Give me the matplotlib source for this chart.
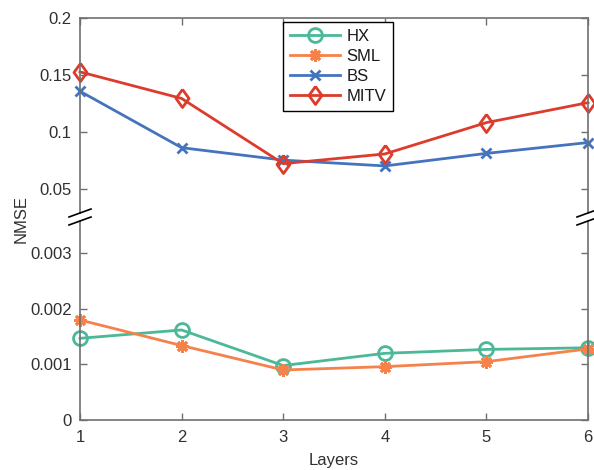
import matplotlib
matplotlib.use('Agg')
import matplotlib.pyplot as plt
from matplotlib.transforms import Affine2D
from matplotlib.lines import Line2D

layers = [1, 2, 3, 4, 5, 6]
hx = [0.00147, 0.00162, 0.00098, 0.00120, 0.00127, 0.00130]
sml = [0.00180, 0.00134, 0.00090, 0.00096, 0.00105, 0.00128]
bs = [0.136, 0.0865, 0.0756, 0.0705, 0.0815, 0.0910]
mitv = [0.153, 0.1297, 0.0725, 0.0810, 0.1085, 0.1260]

top_ticks = [0.05, 0.1, 0.15, 0.2]
top_labels = ['0.05', '0.1', '0.15', '0.2']
bot_ticks = [0, 0.001, 0.002, 0.003]
bot_labels = ['0', '0.001', '0.002', '0.003']

c_hx = '#4BB898'
c_sml = '#F5814B'
c_bs = '#4574BD'
c_mitv = '#DD3B2C'
spine_c = '#707070'
text_c = '#303030'

plt.rcParams['font.family'] = ['Liberation Sans', 'DejaVu Sans']
plt.rcParams['font.size'] = 12

W, H = 594, 470
fig = plt.figure(figsize=(W / 100, H / 100), dpi=100)

# pixel boxes
L, R = 80, 588
top_t, top_b = 18.3, 213
bot_t, bot_b = 221, 420

ax1 = fig.add_axes([L / W, 1 - top_b / H, (R - L) / W, (top_b - top_t) / H])
ax2 = fig.add_axes([L / W, 1 - bot_b / H, (R - L) / W, (bot_b - bot_t) / H])

# y scales
top_ppu = (189.3 - 18.3) / 0.15
ax1.set_ylim(0.05 - (top_b - 189.3) / top_ppu, 0.2)
bot_ppu = (420 - 253.3) / 0.003
ax2.set_ylim(0, (bot_b - bot_t) / bot_ppu)

# matlab-like diamond, taller than wide
diamond = [(0, 1), (0.72, 0), (0, -1), (-0.72, 0), (0, 1)]

lw = 2
l_hx, = ax2.plot(layers, hx, color=c_hx, lw=lw, marker='o', ms=10,
                 mfc='none', mew=2, label='HX')
l_sml, = ax2.plot(layers, sml, color=c_sml, lw=lw, marker=(8, 2, 0), ms=9,
                  mew=2, label='SML')
l_bs, = ax1.plot(layers, bs, color=c_bs, lw=lw, marker='x', ms=7,
                 mew=2, label='BS')
l_mitv, = ax1.plot(layers, mitv, color=c_mitv, lw=lw, marker=diamond, ms=13,
                   mfc='none', mew=2, label='MITV')

for ax in (ax1, ax2):
    ax.set_xlim(1, 6)
    ax.set_xticks(layers)
    for s in ax.spines.values():
        s.set_color(spine_c)
        s.set_linewidth(1.2)
    ax.tick_params(direction='in', length=5, width=1, color=spine_c,
                   labelcolor=text_c, labelsize=12, right=True, top=True)
    ax.tick_params(axis='y', pad=6)
    for l in ax.get_lines():
        l.set_clip_on(False)

ax1.spines['bottom'].set_visible(False)
ax1.tick_params(bottom=False, labelbottom=False)
ax2.spines['top'].set_visible(False)
ax2.tick_params(top=False)

ax1.set_yticks(top_ticks)
ax1.set_yticklabels(top_labels)
ax2.set_yticks(bot_ticks)
ax2.set_yticklabels(bot_labels)
ax2.set_xticks(layers)
ax2.set_xticklabels([str(v) for v in layers])
ax2.tick_params(axis='x', pad=7)

ax2.set_xlabel('Layers', color=text_c, fontsize=12, labelpad=6)
fig.text(21 / W, 1 - 219 / H, 'NMSE', rotation=90, ha='center', va='center',
         color=text_c, fontsize=12)

leg = ax1.legend(handles=[l_hx, l_sml, l_bs, l_mitv], loc='upper left',
                 bbox_to_anchor=((283 - L) / (R - L), 1 - (22 - top_t) / (top_b - top_t)),
                 borderaxespad=0, fancybox=False, framealpha=1, edgecolor='black',
                 handlelength=3.0, labelspacing=0.3, handletextpad=0.4,
                 borderpad=0.42, fontsize=12)
leg.get_frame().set_linewidth(1)
for t in leg.get_texts():
    t.set_color('#1a1a1a')

# break marks in pixel coordinates
pix = Affine2D().scale(1 / W, -1 / H).translate(0, 1) + fig.transFigure
for xc in (L, R):
    for yc in (top_b, bot_t):
        fig.lines.append(Line2D([xc - 11, xc + 11], [yc + 4, yc - 4],
                                transform=pix, color='black', lw=1.2))

fig.savefig('out.png', dpi=100)
